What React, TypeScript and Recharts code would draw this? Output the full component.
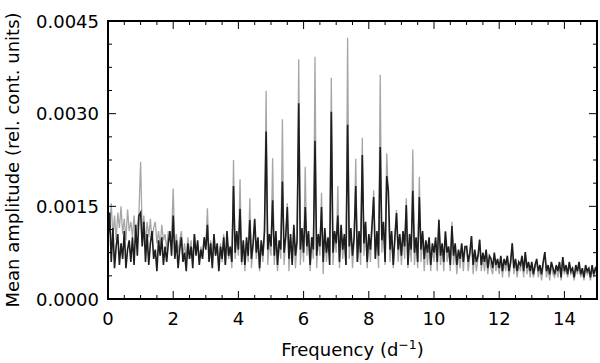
import { LineChart, Line, XAxis, YAxis } from 'recharts';

// amplitudes are in units of 1e-4 (rel. cont. units), sampled every 0.05 d^-1 from 0 to 15
const FREQ_STEP = 0.05;

const GRAY = [
  // 0
  14.5, 11.0, 15.5, 10.0, 13.5, 9.5, 14.0, 11.5, 15.0, 10.5, 13.0, 9.5, 14.5, 11.0, 12.5, 10.0, 13.5, 9.5, 12.0, 14.0,
  // 1
  22.2, 10.5, 13.5, 9.0, 12.5, 10.0, 13.0, 9.5, 11.5, 12.5, 9.0, 11.0, 8.5, 12.0, 9.5, 10.5, 8.0, 11.0, 9.5, 10.0,
  // 2
  17.9, 8.5, 10.5, 7.5, 9.5, 11.0, 7.0, 9.0, 6.5, 10.0, 7.5, 9.5, 6.0, 10.5, 7.5, 9.0, 6.5, 8.5, 7.0, 9.5,
  // 3
  8.5, 14.7, 6.5, 9.5, 5.5, 10.0, 7.0, 8.5, 5.0, 9.0, 6.0, 10.5, 5.5, 10.0, 6.5, 8.0, 5.0, 22.5, 6.5, 10.0,
  // 4
  7.0, 19.4, 5.5, 9.0, 4.5, 9.5, 6.0, 16.3, 5.0, 8.5, 12.0, 6.5, 9.5, 4.5, 9.0, 6.0, 10.5, 33.7, 5.5, 9.5,
  // 5
  7.0, 22.8, 5.5, 10.0, 4.5, 9.0, 6.5, 29.1, 5.5, 9.5, 15.5, 4.5, 10.0, 6.0, 11.5, 5.0, 9.0, 38.8, 5.5, 10.5,
  // 6
  6.0, 21.4, 7.0, 10.5, 4.5, 9.0, 6.5, 39.2, 5.0, 10.0, 7.0, 17.2, 4.0, 11.0, 6.0, 9.5, 7.0, 35.8, 5.5, 10.0,
  // 7
  7.5, 18.3, 5.0, 11.5, 6.5, 10.0, 5.5, 42.3, 6.5, 11.0, 5.0, 9.5, 22.7, 6.0, 10.5, 5.5, 26.1, 7.0, 12.0, 5.0,
  // 8
  9.5, 6.0, 11.5, 17.6, 6.5, 10.5, 5.0, 36.3, 7.5, 12.0, 5.5, 23.6, 16.5, 6.0, 10.5, 5.0, 9.5, 14.4, 6.0, 10.0,
  // 9
  5.5, 10.5, 6.5, 16.3, 5.0, 10.0, 6.0, 24.2, 5.5, 9.5, 5.0, 19.8, 6.0, 10.5, 4.5, 9.0, 5.5, 9.5, 4.5, 8.5,
  // 10
  6.0, 9.5, 4.5, 13.0, 5.5, 8.5, 4.5, 11.0, 6.0, 8.0, 4.5, 12.5, 5.5, 8.5, 4.0, 7.5, 5.0, 8.5, 4.5, 8.0,
  // 11
  8.5, 4.5, 7.0, 10.2, 4.0, 7.5, 4.5, 6.5, 9.6, 4.5, 7.0, 4.5, 7.5, 4.0, 6.5, 5.0, 4.0, 7.0, 4.5, 6.0,
  // 12
  4.0, 6.5, 3.5, 6.0, 4.5, 6.5, 3.5, 5.5, 9.0, 4.0, 6.0, 3.5, 5.5, 4.5, 6.5, 3.5, 7.6, 4.0, 5.5, 3.5,
  // 13
  5.5, 3.5, 5.0, 6.0, 3.5, 5.0, 3.0, 5.5, 7.6, 3.5, 5.0, 3.0, 5.5, 4.0, 3.5, 5.0, 3.5, 5.5, 3.0, 6.8,
  // 14
  4.0, 5.0, 3.5, 5.5, 4.0, 4.5, 3.0, 5.0, 4.0, 5.5, 3.5, 4.5, 3.0, 5.0, 4.0, 4.5, 3.0, 5.0, 3.5, 4.5,
  // 15
  4.0,
];

const BLACK = [
  // 0
  9.5, 14.0, 6.0, 11.5, 5.0, 8.5, 10.5, 5.5, 9.0, 6.5, 11.0, 5.0, 8.0, 9.5, 6.0, 10.0, 5.5, 12.0, 7.0, 13.5,
  // 1
  14.0, 8.5, 12.5, 6.0, 10.5, 5.5, 9.0, 11.0, 6.5, 8.0, 4.5, 9.5, 7.0, 10.0, 5.5, 8.5, 6.0, 9.0, 11.0, 7.0,
  // 2
  13.5, 6.5, 9.5, 5.0, 8.0, 10.0, 6.0, 7.5, 4.5, 9.0, 6.5, 8.5, 5.0, 10.5, 7.0, 9.5, 5.5, 8.0, 6.5, 10.0,
  // 3
  8.0, 12.0, 6.0, 9.0, 5.0, 10.5, 7.0, 9.0, 4.5, 8.5, 6.5, 10.0, 5.5, 11.0, 7.0, 8.5, 6.0, 18.3, 7.5, 11.0,
  // 4
  8.0, 14.6, 6.0, 9.5, 5.5, 10.0, 7.0, 12.8, 6.5, 9.0, 13.0, 7.5, 10.0, 5.0, 9.5, 7.0, 11.0, 27.1, 8.0, 10.5,
  // 5
  8.5, 16.0, 7.0, 11.0, 5.5, 9.5, 8.0, 19.0, 7.5, 10.0, 14.9, 6.5, 10.5, 5.5, 12.0, 7.0, 9.5, 31.7, 8.0, 11.5,
  // 6
  7.5, 14.9, 8.5, 11.0, 5.5, 10.0, 8.0, 25.6, 7.0, 10.5, 8.5, 14.9, 6.0, 11.5, 7.5, 10.0, 5.5, 30.3, 7.5, 11.0,
  // 7
  9.0, 13.5, 6.0, 12.0, 8.0, 10.5, 5.5, 28.2, 8.5, 11.5, 7.0, 10.0, 18.3, 6.0, 11.0, 7.5, 23.3, 9.0, 12.5, 6.0,
  // 8
  10.5, 8.0, 12.0, 16.5, 6.5, 11.0, 7.0, 24.6, 9.5, 12.5, 6.0, 19.9, 17.5, 8.0, 11.0, 5.5, 10.0, 13.9, 8.0, 10.5,
  // 9
  7.0, 11.0, 8.5, 15.2, 5.5, 10.5, 8.0, 17.5, 7.5, 10.0, 6.0, 16.5, 8.0, 11.0, 6.5, 9.5, 7.5, 10.0, 5.5, 9.0,
  // 10
  7.5, 10.0, 6.0, 12.8, 7.0, 9.0, 6.0, 10.9, 7.5, 8.5, 5.5, 11.8, 7.0, 9.0, 5.5, 8.0, 6.5, 9.0, 6.0, 8.5,
  // 11
  8.5, 6.0, 7.5, 10.2, 5.5, 8.0, 6.0, 7.0, 9.6, 5.5, 7.5, 6.0, 8.0, 5.0, 7.0, 6.5, 5.0, 7.5, 5.5, 6.5,
  // 12
  5.0, 7.0, 4.5, 6.5, 5.5, 7.0, 4.5, 6.0, 9.0, 5.0, 6.5, 4.5, 6.0, 5.5, 7.0, 4.5, 7.6, 5.0, 6.0, 4.5,
  // 13
  6.0, 4.0, 5.5, 6.5, 4.5, 5.5, 4.0, 6.0, 7.6, 4.5, 5.5, 4.0, 6.0, 5.0, 4.0, 5.5, 4.5, 6.0, 3.5, 6.8,
  // 14
  4.5, 5.5, 4.0, 6.0, 4.5, 5.0, 3.5, 5.5, 4.5, 6.0, 4.0, 5.0, 3.5, 5.5, 4.5, 5.0, 3.5, 5.5, 4.0, 5.0,
  // 15
  4.5,
];

const X_TICKS = [0, 0.5, 1, 1.5, 2, 2.5, 3, 3.5, 4, 4.5, 5, 5.5, 6, 6.5, 7, 7.5, 8, 8.5, 9, 9.5, 10, 10.5, 11, 11.5, 12, 12.5, 13, 13.5, 14, 14.5, 15];
const X_LABELED = [0, 2, 4, 6, 8, 10, 12, 14];
const Y_TICKS = [0, 3.75, 7.5, 11.25, 15, 18.75, 22.5, 26.25, 30, 33.75, 37.5, 41.25, 45];
const Y_LABELED = [0, 15, 30, 45];

const data = BLACK.map((b, i) => ({
  f: Number((i * FREQ_STEP).toFixed(2)),
  gray: GRAY[i],
  black: b,
}));

const FONT = '"DejaVu Sans", Verdana, sans-serif';
const MAJOR = 8;
const MINOR = 4;
// plot box, set through the chart margins and axis sizes below
const PLOT_LEFT = 108;
const PLOT_TOP = 21;
const PLOT_RIGHT = 597;
const PLOT_BOTTOM = 299;
const X_MAX = 15;
const Y_MAX = 45;

function BottomTick(props: any) {
  const { x, y, payload } = props;
  if (!X_LABELED.includes(payload.value)) return <g />;
  return (
    <text x={x} y={y + 26} textAnchor="middle" fontSize={18} fontFamily={FONT} fill="#000">
      {payload.value}
    </text>
  );
}

function LeftTick(props: any) {
  const { x, y, payload } = props;
  if (!Y_LABELED.includes(payload.value)) return <g />;
  return (
    <text x={x - 9} y={y + 6.5} textAnchor="end" fontSize={18} fontFamily={FONT} fill="#000">
      {(payload.value / 10000).toFixed(4)}
    </text>
  );
}

// matplotlib-style box with inward major/minor ticks on all four sides
function Frame() {
  const sx = (v: number) => PLOT_LEFT + (v / X_MAX) * (PLOT_RIGHT - PLOT_LEFT);
  const sy = (v: number) => PLOT_BOTTOM - (v / Y_MAX) * (PLOT_BOTTOM - PLOT_TOP);
  return (
    <svg
      width={600}
      height={363}
      style={{ position: 'absolute', left: 0, top: 0, pointerEvents: 'none' }}
    >
      {X_TICKS.map((v) => {
        const len = X_LABELED.includes(v) ? MAJOR : MINOR;
        const x = sx(v);
        return (
          <g key={`x${v}`}>
            <line x1={x} x2={x} y1={PLOT_BOTTOM} y2={PLOT_BOTTOM - len} stroke="#000" strokeWidth={1} />
            <line x1={x} x2={x} y1={PLOT_TOP} y2={PLOT_TOP + len} stroke="#000" strokeWidth={1} />
          </g>
        );
      })}
      {Y_TICKS.map((v) => {
        const len = Y_LABELED.includes(v) ? MAJOR : MINOR;
        const y = sy(v);
        return (
          <g key={`y${v}`}>
            <line x1={PLOT_LEFT} x2={PLOT_LEFT + len} y1={y} y2={y} stroke="#000" strokeWidth={1} />
            <line x1={PLOT_RIGHT} x2={PLOT_RIGHT - len} y1={y} y2={y} stroke="#000" strokeWidth={1} />
          </g>
        );
      })}
      <rect
        x={PLOT_LEFT}
        y={PLOT_TOP}
        width={PLOT_RIGHT - PLOT_LEFT}
        height={PLOT_BOTTOM - PLOT_TOP}
        fill="none"
        stroke="#000"
        strokeWidth={2}
      />
    </svg>
  );
}

export default function App() {
  return (
    <div style={{ position: 'absolute', left: 0, top: 0, width: 600, height: 363, background: '#fff' }}>
      <LineChart
        width={600}
        height={363}
        data={data}
        margin={{ top: PLOT_TOP, right: 600 - PLOT_RIGHT, bottom: 0, left: 0 }}
      >
        <XAxis
          dataKey="f"
          type="number"
          domain={[0, X_MAX]}
          ticks={X_TICKS}
          interval={0}
          height={363 - PLOT_BOTTOM}
          tickSize={0}
          tickMargin={0}
          tickLine={false}
          tick={BottomTick}
          axisLine={{ stroke: '#000', strokeWidth: 2 }}
          label={(p: any) => {
            const vb = p.viewBox;
            return (
              <text x={vb.x + vb.width / 2} y={356} textAnchor="middle" fontSize={18} fontFamily={FONT} fill="#000">
                Frequency (d
                <tspan dy={-7} fontSize={12.5}>−1</tspan>
                <tspan dy={7}>)</tspan>
              </text>
            );
          }}
        />
        <YAxis
          type="number"
          domain={[0, Y_MAX]}
          ticks={Y_TICKS}
          interval={0}
          width={PLOT_LEFT}
          tickSize={0}
          tickMargin={0}
          tickLine={false}
          tick={LeftTick}
          axisLine={{ stroke: '#000', strokeWidth: 2 }}
          label={() => (
            <text
              x={19}
              y={160}
              transform="rotate(-90 19 160)"
              textAnchor="middle"
              fontSize={18}
              fontFamily={FONT}
              fill="#000"
            >
              Mean amplitude (rel. cont. units)
            </text>
          )}
        />
        <Line
          dataKey="gray"
          type="linear"
          stroke="#a6a6a6"
          strokeWidth={1.3}
          dot={false}
          isAnimationActive={false}
        />
        <Line
          dataKey="black"
          type="linear"
          stroke="#1e1e1e"
          strokeWidth={1.6}
          dot={false}
          isAnimationActive={false}
        />
      </LineChart>
      <Frame />
    </div>
  );
}
